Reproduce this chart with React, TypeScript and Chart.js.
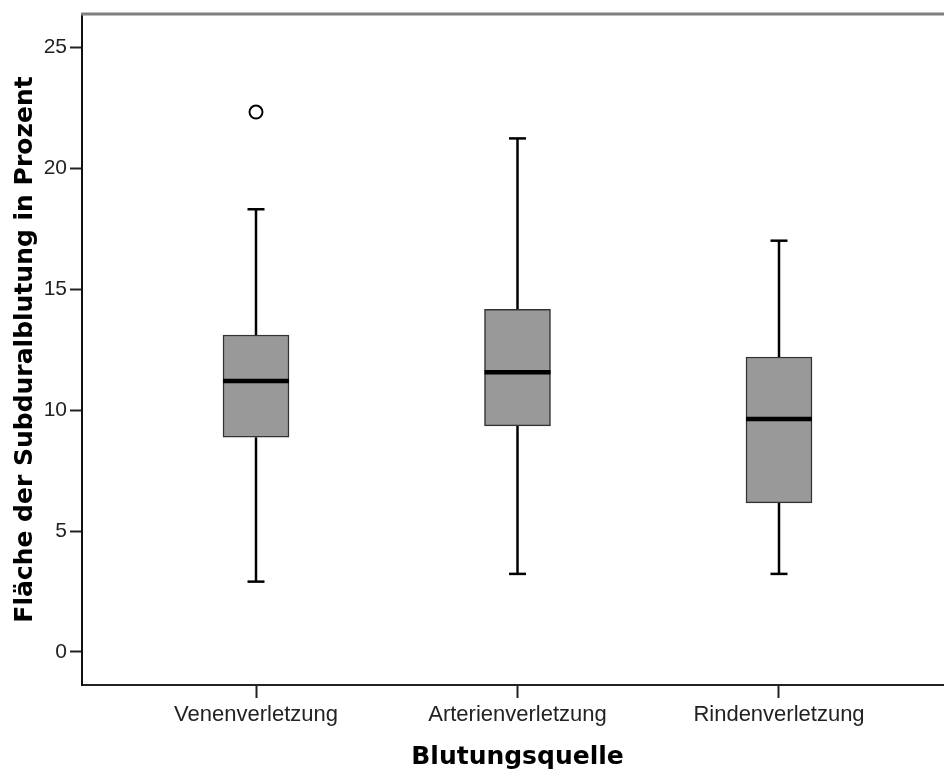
import React, { useEffect, useRef } from "react";
import { Chart, registerables } from "chart.js";

Chart.register(...registerables);

const categories = ["Venenverletzung", "Arterienverletzung", "Rindenverletzung"];
const whiskerLow = [2.91, 3.23, 3.23];
const q1 = [8.88, 9.35, 6.17];
const median = [11.21, 11.57, 9.64];
const q3 = [13.11, 14.17, 12.2];
const whiskerHigh = [18.31, 21.24, 17.01];
const outliers = [{ group: 0, value: 22.33 }];
const yTicks = [0, 5, 10, 15, 20, 25];
const xTitle = "Blutungsquelle";
const yTitle = "Fläche der Subduralblutung in Prozent";

const boxWhiskerPlugin = {
  id: "boxWhisker",
  beforeDatasetsDraw(chart: any) {
    const { ctx, scales } = chart;
    const xs = scales.x, ys = scales.y;
    ctx.save();
    ctx.strokeStyle = "#000";
    ctx.lineWidth = 2.5;
    ctx.lineCap = "butt";
    categories.forEach((_, i) => {
      const x = xs.getPixelForValue(i + 1);
      const capHalf = 8.5;
      const segs = [
        [whiskerLow[i], q1[i]],
        [q3[i], whiskerHigh[i]],
      ];
      segs.forEach(([a, b]) => {
        ctx.beginPath();
        ctx.moveTo(x, ys.getPixelForValue(a));
        ctx.lineTo(x, ys.getPixelForValue(b));
        ctx.stroke();
      });
      [whiskerLow[i], whiskerHigh[i]].forEach((v) => {
        const y = ys.getPixelForValue(v);
        ctx.beginPath();
        ctx.moveTo(x - capHalf, y);
        ctx.lineTo(x + capHalf, y);
        ctx.stroke();
      });
    });
    ctx.restore();
  },
  afterDatasetsDraw(chart: any) {
    const { ctx, scales } = chart;
    const xs = scales.x, ys = scales.y;
    const meta = chart.getDatasetMeta(0);
    ctx.save();
    ctx.strokeStyle = "#000";
    ctx.lineWidth = 4.5;
    categories.forEach((_, i) => {
      const bar = meta.data[i];
      const half = bar.width / 2;
      const x = xs.getPixelForValue(i + 1);
      const y = ys.getPixelForValue(median[i]);
      ctx.beginPath();
      ctx.moveTo(x - half, y);
      ctx.lineTo(x + half, y);
      ctx.stroke();
    });
    ctx.restore();
  },
  afterDraw(chart: any) {
    const { ctx, chartArea, scales } = chart;
    ctx.save();
    ctx.strokeStyle = "#808080";
    ctx.lineWidth = 3;
    ctx.beginPath();
    ctx.moveTo(chartArea.left - 1, chartArea.top);
    ctx.lineTo(chart.width, chartArea.top);
    ctx.stroke();
    // x-axis title, centred under the middle category
    ctx.fillStyle = "#000";
    ctx.font = "bold 25px 'DejaVu Sans'";
    ctx.textAlign = "center";
    ctx.textBaseline = "middle";
    ctx.fillText(xTitle, scales.x.getPixelForValue(2), 757);
    ctx.restore();
  },
};

export default function App() {
  const ref = useRef<HTMLCanvasElement | null>(null);

  useEffect(() => {
    if (!ref.current) return;
    const chart = new Chart(ref.current, {
      type: "bar",
      data: {
        datasets: [
          {
            type: "bar",
            data: categories.map((_, i) => ({ x: i + 1, y: [q1[i], q3[i]] })) as any,
            backgroundColor: "#999999",
            borderColor: "#333333",
            borderWidth: 1.5,
            borderSkipped: false,
            barThickness: 66,
          } as any,
          {
            type: "scatter",
            data: outliers.map((o) => ({ x: o.group + 1, y: o.value })),
            pointRadius: 6.5,
            pointBorderWidth: 2,
            pointBorderColor: "#000",
            pointBackgroundColor: "#fff",
          } as any,
        ],
      },
      options: {
        animation: false,
        responsive: true,
        maintainAspectRatio: false,
        layout: { autoPadding: false, padding: { top: 14, right: 0, left: 0, bottom: 0 } },
        plugins: { legend: { display: false }, tooltip: { enabled: false } },
        scales: {
          x: {
            type: "linear",
            min: 0.3346,
            max: 3.631,
            offset: false,
            grid: {
              offset: false,
              drawOnChartArea: false,
              drawTicks: true,
              tickLength: 13,
              tickWidth: 2,
              tickColor: "#222",
            },
            border: { display: true, color: "#222", width: 2 },
            afterBuildTicks: (s: any) => {
              s.ticks = categories.map((_, i) => ({ value: i + 1 }));
            },
            afterFit: (s: any) => {
              s.height = 87;
              s.paddingLeft = 0;
              s.paddingRight = 0;
            },
            ticks: {
              autoSkip: false,
              maxRotation: 0,
              padding: 4,
              color: "#222",
              font: { family: "Liberation Sans, Arial", size: 22 },
              callback: (v: any) => categories[Math.round(Number(v)) - 1] ?? "",
            },
            title: { display: false },
          },
          y: {
            type: "linear",
            min: -1.365,
            max: 26.385,
            grid: {
              drawOnChartArea: false,
              drawTicks: true,
              tickLength: 12,
              tickWidth: 2,
              tickColor: "#222",
            },
            border: { display: true, color: "#111", width: 2 },
            afterBuildTicks: (s: any) => {
              s.ticks = yTicks.map((v) => ({ value: v }));
            },
            afterFit: (s: any) => {
              s.width = 82;
              s.paddingTop = 0;
              s.paddingBottom = 0;
            },
            ticks: {
              padding: 3,
              color: "#222",
              font: { family: "Liberation Sans, Arial", size: 21 },
            },
            title: {
              display: true,
              text: yTitle,
              color: "#000",
              font: { family: "DejaVu Sans", size: 25, weight: "bold" },
              padding: { top: 10, bottom: 0 },
            },
          },
        },
      },
      plugins: [boxWhiskerPlugin],
    } as any);
    return () => chart.destroy();
  }, []);

  return (
    <div
      style={{
        position: "absolute",
        left: 0,
        top: 0,
        width: 944,
        height: 772,
        overflow: "hidden",
        background: "#fff",
      }}
    >
      <div style={{ position: "relative", width: 944, height: 772 }}>
        <canvas ref={ref} />
      </div>
    </div>
  );
}
